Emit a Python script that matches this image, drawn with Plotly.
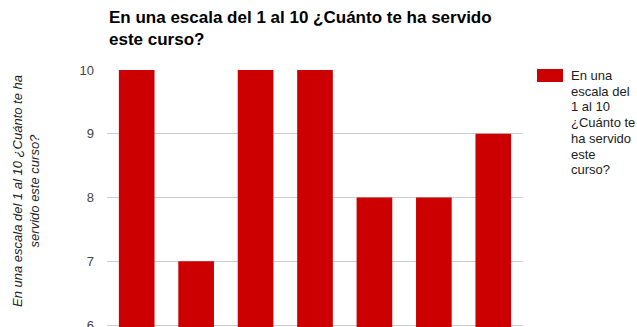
import plotly.graph_objects as go

# Survey answers: one bar per respondent
respondents = ["1", "2", "3", "4", "5", "6", "7"]
scores = [10, 7, 10, 10, 8, 8, 9]

title_text = "En una escala del 1 al 10 ¿Cuánto te ha servido<br>este curso?"
axis_title = "En una escala del 1 al 10 ¿Cuánto te ha<br>servido este curso?"
series_name = "En una escala del 1 al 10 ¿Cuánto te ha servido este curso?"
legend_lines = ["En una", "escala del", "1 al 10", "¿Cuánto te", "ha servido", "este", "curso?"]
y_ticks = [6, 7, 8, 9, 10]

BAR_COLOR = "#cc0000"
W, H = 637, 327
L, R, T, B = 107, 114, 70, 0
plot_w = W - L - R
plot_h = H - T - B

fig = go.Figure(
    go.Bar(
        x=respondents,
        y=scores,
        name=series_name,
        marker=dict(color=BAR_COLOR, line=dict(width=0)),
        width=0.6,
        showlegend=False,
    )
)

fig.update_layout(
    width=W,
    height=H,
    margin=dict(l=L, r=R, t=T, b=B, autoexpand=False),
    paper_bgcolor="white",
    plot_bgcolor="white",
    font=dict(family="Liberation Sans, Arial, sans-serif", color="#444"),
    xaxis=dict(showticklabels=False, showgrid=False, zeroline=False, showline=False,
               ticks="", automargin=False),
    yaxis=dict(
        range=[5.97, 10],
        tickvals=y_ticks,
        ticks="",
        showgrid=True,
        gridcolor="#cccccc",
        gridwidth=1,
        zeroline=False,
        showline=False,
        tickfont=dict(size=13, color="#444"),
        ticklabelstandoff=12,
        ticklabeloverflow="allow",
        automargin=False,
    ),
    bargap=0.4,
)

# Chart title, two bold lines above the plot
fig.add_annotation(
    text="<b>" + title_text + "</b>",
    xref="paper", yref="paper",
    x=0, y=1 + (T - 6) / plot_h,
    xanchor="left", yanchor="top", align="left",
    showarrow=False,
    font=dict(size=17, color="#000"),
)

# Rotated axis title
fig.add_annotation(
    text="<i>" + axis_title + "</i>",
    xref="paper", yref="paper",
    x=(26 - L) / plot_w, y=1 - (191 - T) / plot_h,
    xanchor="center", yanchor="middle",
    textangle=-90,
    showarrow=False,
    font=dict(size=13, color="#222"),
)

# Legend: colour key plus wrapped series name
key_x0, key_x1 = 537, 563
key_y0, key_y1 = 69, 82
fig.add_shape(
    type="rect",
    xref="paper", yref="paper",
    x0=(key_x0 - L) / plot_w, x1=(key_x1 - L) / plot_w,
    y0=1 - (key_y1 - T) / plot_h, y1=1 - (key_y0 - T) / plot_h,
    fillcolor=BAR_COLOR, line=dict(width=0),
)
for i, line in enumerate(legend_lines):
    cy = 75.5 + i * 15.7
    fig.add_annotation(
        text=line,
        xref="paper", yref="paper",
        x=(569 - L) / plot_w, y=1 - (cy - T) / plot_h,
        xanchor="left", yanchor="middle",
        showarrow=False,
        font=dict(size=13, color="#222"),
    )

fig.write_html("out.html")
